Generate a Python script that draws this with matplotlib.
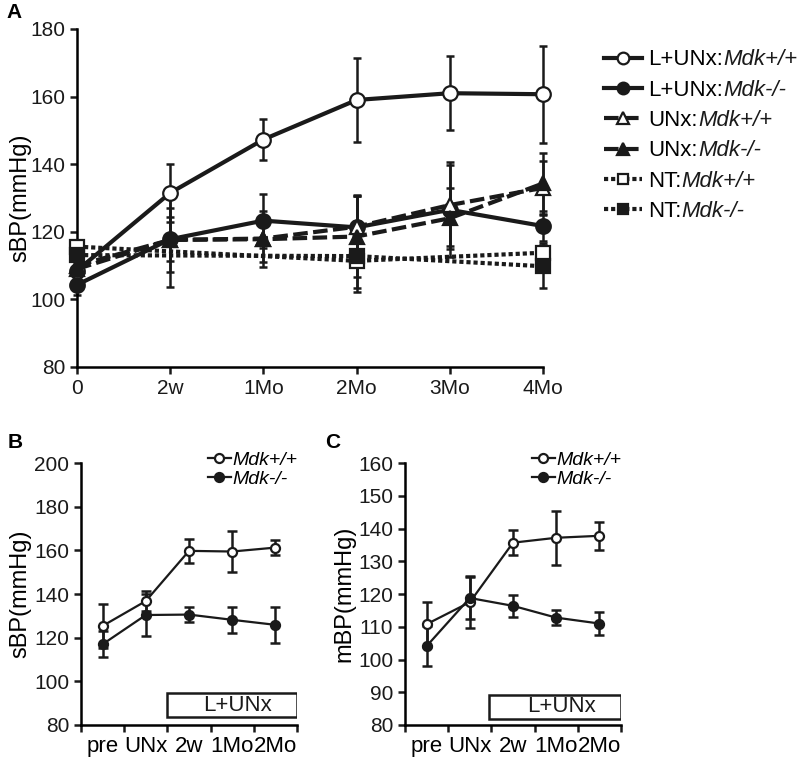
import matplotlib.pyplot as plt
from matplotlib.patches import Rectangle

plt.rcParams['font.family'] = ['Liberation Sans', 'DejaVu Sans']
plt.rcParams['axes.linewidth'] = 1.8

# panel A: sBP over time after treatment
time_a = ['0', '2w', '1Mo', '2Mo', '3Mo', '4Mo']
lunx_wt = [108.5, 131.5, 147.3, 159.0, 161.0, 160.7]
lunx_wt_err = [3, 8.7, 6.0, 12.5, 11.0, 14.3]
lunx_ko = [104.3, 117.8, 123.3, 121.3, 126.5, 121.7]
lunx_ko_err = [3, 6.5, 8.0, 9.5, 14.0, 4.5]
unx_wt = [110.0, 117.6, 118.0, 121.5, 127.9, 133.0]
unx_wt_err = [3, 9.5, 6.8, 9.0, 12.0, 8.0]
unx_ko = [109.0, 117.6, 117.8, 118.6, 124.0, 134.3]
unx_ko_err = [3, 14.0, 8.3, 12.0, 9.0, 9.0]
nt_idx = [0, 3, 5]
nt_wt = [115.6, 111.4, 113.8]
nt_wt_err = [2, 8, 3]
nt_ko = [113.1, 112.8, 109.8]
nt_ko_err = [2, 10.5, 6.3]

# panels B, C: L+UNx only
time_bc = ['pre', 'UNx', '2w', '1Mo', '2Mo']
sbp_wt = [125.4, 136.8, 159.8, 159.5, 161.3]
sbp_wt_err = [10, 4.5, 5.5, 9.5, 3.5]
sbp_ko = [117.0, 130.4, 130.6, 128.2, 125.9]
sbp_ko_err = [6, 9.6, 3.3, 6, 8.2]
mbp_wt = [110.8, 117.5, 135.7, 137.2, 137.8]
mbp_wt_err = [6.9, 8, 3.9, 8.2, 4.2]
mbp_ko = [104.1, 118.8, 116.4, 112.8, 111.0]
mbp_ko_err = [6, 6.3, 3.3, 2.4, 3.4]

K = '#1a1a1a'
DASH = (0, (3.5, 1.3))
DOT = (0, (1.0, 0.7))


def series(ax, x, y, err, marker, mfc, ls, label, lw=3.0, ms=10.5, cap=3, ew=1.8):
    eb = ax.errorbar(x, y, yerr=err, fmt='none', ecolor=K, elinewidth=ew,
                     capsize=cap, capthick=ew, zorder=2)
    for a in list(eb.lines[1]) + list(eb.lines[2]):
        a.set_clip_on(False)
    ax.plot(x, y, color=K, lw=lw, ls=ls, marker=marker, ms=ms, mfc=mfc,
            mec=K, mew=1.6, label=label, zorder=3, clip_on=False)


def style(ax):
    for s in ['top', 'right']:
        ax.spines[s].set_visible(False)
    ax.tick_params(direction='out', width=1.8, length=5, colors=K)


fig = plt.figure(figsize=(8.02, 7.59), dpi=100)

# ---- A ----
axA = fig.add_axes([0.096, 0.5165, 0.581, 0.4453])
xa = list(range(len(time_a)))
series(axA, xa, lunx_wt, lunx_wt_err, 'o', 'white', '-', 'L+UNx:')
series(axA, xa, lunx_ko, lunx_ko_err, 'o', K, '-', 'L+UNx:')
series(axA, xa, unx_wt, unx_wt_err, '^', 'white', DASH, 'UNx:')
series(axA, xa, unx_ko, unx_ko_err, '^', K, DASH, 'UNx:')
series(axA, nt_idx, nt_wt, nt_wt_err, 's', 'white', DOT, 'NT:', ms=9.5)
series(axA, nt_idx, nt_ko, nt_ko_err, 's', K, DOT, 'NT:', ms=9.5)
axA.set_xlim(0, 5)
axA.set_ylim(80, 180)
axA.set_xticks(xa)
axA.set_xticklabels(time_a)
axA.set_yticks(range(80, 181, 20))
axA.set_ylabel('sBP(mmHg)', fontsize=17, labelpad=-1)
axA.tick_params(labelsize=15)
style(axA)
for sp in axA.spines.values():
    sp.set_clip_on(False)

leg = axA.legend(loc='upper left', bbox_to_anchor=(0.753, 0.935),
                 bbox_transform=fig.transFigure, frameon=False, fontsize=16,
                 handlelength=1.7, handletextpad=0.3, labelspacing=0.42,
                 borderpad=0, borderaxespad=0, numpoints=1, markerscale=0.8)
suffix = ['Mdk+/+', 'Mdk-/-'] * 3
for t, s in zip(leg.get_texts(), suffix):
    axA.annotate(s, xy=(1, 0), xycoords=t, va='bottom', ha='left',
                 fontsize=16, style='italic', color=K, zorder=10,
                 annotation_clip=False)

# ---- B and C ----
xb = [i + 0.5 for i in range(len(time_bc))]


def small_panel(rect, wt, wt_err, ko, ko_err, ylim, ystep, ylabel, box_x, box_y):
    ax = fig.add_axes(rect)
    series(ax, xb, wt, wt_err, 'o', 'white', '-', 'Mdk+/+', lw=1.6, ms=6.5, cap=3.5, ew=1.8)
    series(ax, xb, ko, ko_err, 'o', K, '-', 'Mdk-/-', lw=1.6, ms=6.5, cap=3.5, ew=1.8)
    ax.set_xlim(0, 5)
    ax.set_ylim(*ylim)
    ax.set_yticks(range(ylim[0], ylim[1] + 1, ystep))
    ax.set_xticks(range(6))
    ax.set_xticklabels([])
    ax.set_xticks(xb, minor=True)
    ax.set_xticklabels(time_bc, minor=True)
    style(ax)
    ax.tick_params(axis='y', labelsize=15)
    ax.tick_params(axis='x', which='both', labelsize=16)
    ax.tick_params(axis='x', which='minor', length=0, pad=8)
    ax.set_ylabel(ylabel, fontsize=17, labelpad=2)
    for sp in ax.spines.values():
        sp.set_clip_on(False)
    ax.add_patch(Rectangle((box_x[0], box_y[0]), box_x[1] - box_x[0],
                           box_y[1] - box_y[0], fill=False, ec=K, lw=1.8))
    ax.text(3.63, (box_y[0] + box_y[1]) / 2, 'L+UNx', fontsize=16,
            ha='center', va='center', color=K)
    ax.legend(loc='upper right', bbox_to_anchor=(1.0, 1.045), frameon=False,
              prop={'size': 14, 'style': 'italic'}, handlelength=1.2,
              handletextpad=0.05, labelspacing=0.05, borderpad=0,
              borderaxespad=0, numpoints=1)
    return ax


axB = small_panel([0.101, 0.0448, 0.2693, 0.345], sbp_wt, sbp_wt_err,
                  sbp_ko, sbp_ko_err, (80, 200), 20, 'sBP(mmHg)',
                  (1.99, 5.0), (83.6, 94.6))
axC = small_panel([0.505, 0.0448, 0.2693, 0.345], mbp_wt, mbp_wt_err,
                  mbp_ko, mbp_ko_err, (80, 160), 10, 'mBP(mmHg)',
                  (1.94, 5.0), (81.8, 89.2))

fig.text(0.008, 0.983, 'A', fontsize=15, fontweight='bold', va='center')
fig.text(0.010, 0.417, 'B', fontsize=15, fontweight='bold', va='center')
fig.text(0.405, 0.417, 'C', fontsize=15, fontweight='bold', va='center')

fig.savefig('out.png', dpi=100)
